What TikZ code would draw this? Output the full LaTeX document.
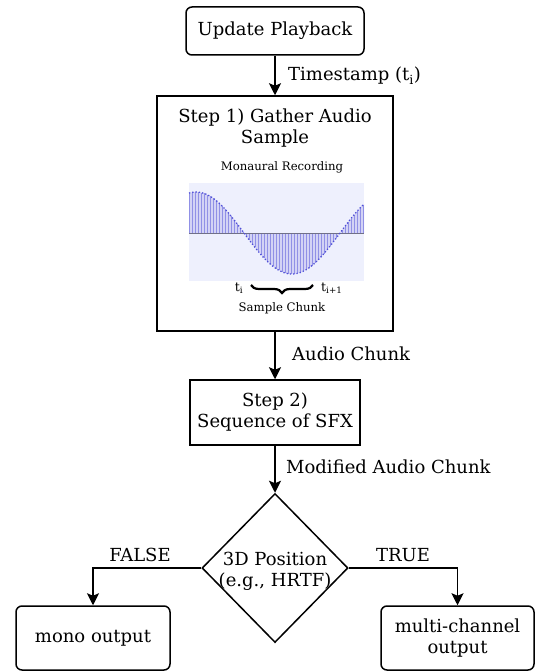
\documentclass[tikz,border=0pt]{standalone}
\usepackage{fontspec}
\setmainfont{DejaVu Serif}
\usetikzlibrary{arrows.meta,decorations.pathreplacing,shapes.geometric}
\definecolor{panelbg}{HTML}{EEF0FD}
\definecolor{stemcol}{HTML}{9090E6}
\definecolor{fillcol}{HTML}{C8C8F2}
\definecolor{curvecol}{HTML}{5050D8}
\definecolor{axiscol}{HTML}{707088}
\tikzset{
  big/.style={font=\fontsize{18}{22}\selectfont},
  small/.style={font=\fontsize{11.7}{14}\selectfont},
  box/.style={draw, line width=1.5pt, inner sep=0pt, align=center, big},
  rbox/.style={box, rounded corners=6pt},
  arr/.style={line width=1.6pt, -{Stealth[length=12pt,width=12pt,inset=2.5pt]}},
  lbl/.style={big, inner sep=0pt, anchor=west},
}
\begin{document}
\begin{tikzpicture}[x=1pt,y=-1pt]
\useasboundingbox (0,0) rectangle (536,671);
% boxes
\node[rbox, minimum width=178pt, minimum height=48pt] (upd) at (275,31) {Update Playback};
\node[box, minimum width=236pt, minimum height=235pt] (step1) at (275,213.5) {};
\node[big, inner sep=0pt, align=center] (s1title) at (275,128) {Step 1) Gather Audio\\[-1pt]Sample};
\node[box, minimum width=170pt, minimum height=65pt] (step2) at (275,412.5) {Step 2)\\[-1pt]Sequence of SFX};
\node[draw, diamond, line width=1.5pt, inner sep=0pt, minimum width=146pt, minimum height=149pt] (dec) at (275,568) {};
\node[big, inner sep=0pt, align=center] (dectext) at (275,571) {3D Position\\[-1pt](e.g., HRTF)};
\node[rbox, minimum width=154pt, minimum height=64pt] (mono) at (93,638) {mono output};
\node[rbox, minimum width=153pt, minimum height=64pt] (multi) at (457.5,638) {multi-channel\\[-1pt]output};
% waveform panel
\node[small, inner sep=0pt] (mono title) at (282,167) {Monaural Recording};
\fill[panelbg] (189,183) rectangle (364,281);
\fill[fillcol, opacity=0.7] (189,233) -- plot[domain=189:364, samples=120] (\x,{233-41*cos(1.875*(\x-196))}) -- (364,233) -- cycle;
\foreach \xx in {189,192,...,363} {
  \draw[stemcol, line width=0.8pt] (\xx,233) -- (\xx,{233-41*cos(1.875*(\xx-196))});
}
\draw[axiscol, line width=1pt] (189,233) -- (364,233);
\draw[curvecol, line width=1.3pt, dotted] plot[domain=189:364, samples=120] (\x,{233-41*cos(1.875*(\x-196))});
\coordinate (bl) at (251,285);
\coordinate (br) at (313,285);
\draw[line width=2.2pt, decoration={brace, amplitude=8pt}, decorate] (br) -- (bl);
\node[inner sep=0pt, font=\fontsize{12.5}{14}\selectfont] (ti) at (239,288) {t\textsubscript{i}};
\node[inner sep=0pt, anchor=west, font=\fontsize{12.5}{14}\selectfont] (ti1) at (321,288) {t\textsubscript{i+1}};
\node[small, inner sep=0pt] (chunk) at (282,308) {Sample Chunk};
% connectors
\draw[arr] (upd.south) -- (step1.north);
\node[lbl] (l1) at (288,76) {Timestamp (t\textsubscript{i})};
\draw[arr] (step1.south) -- (step2.north);
\node[lbl] (l2) at (292,354) {Audio Chunk};
\draw[arr] (step2.south) -- (dec.north);
\node[lbl] (l3) at (286,467) {Modified Audio Chunk};
\draw[arr] (dec.west) -| (mono.north);
\node[big, inner sep=0pt] (lf) at (140,555) {FALSE};
\draw[arr] (dec.east) -| (multi.north);
\node[big, inner sep=0pt] (lt) at (403,555) {TRUE};
\end{tikzpicture}
\end{document}
